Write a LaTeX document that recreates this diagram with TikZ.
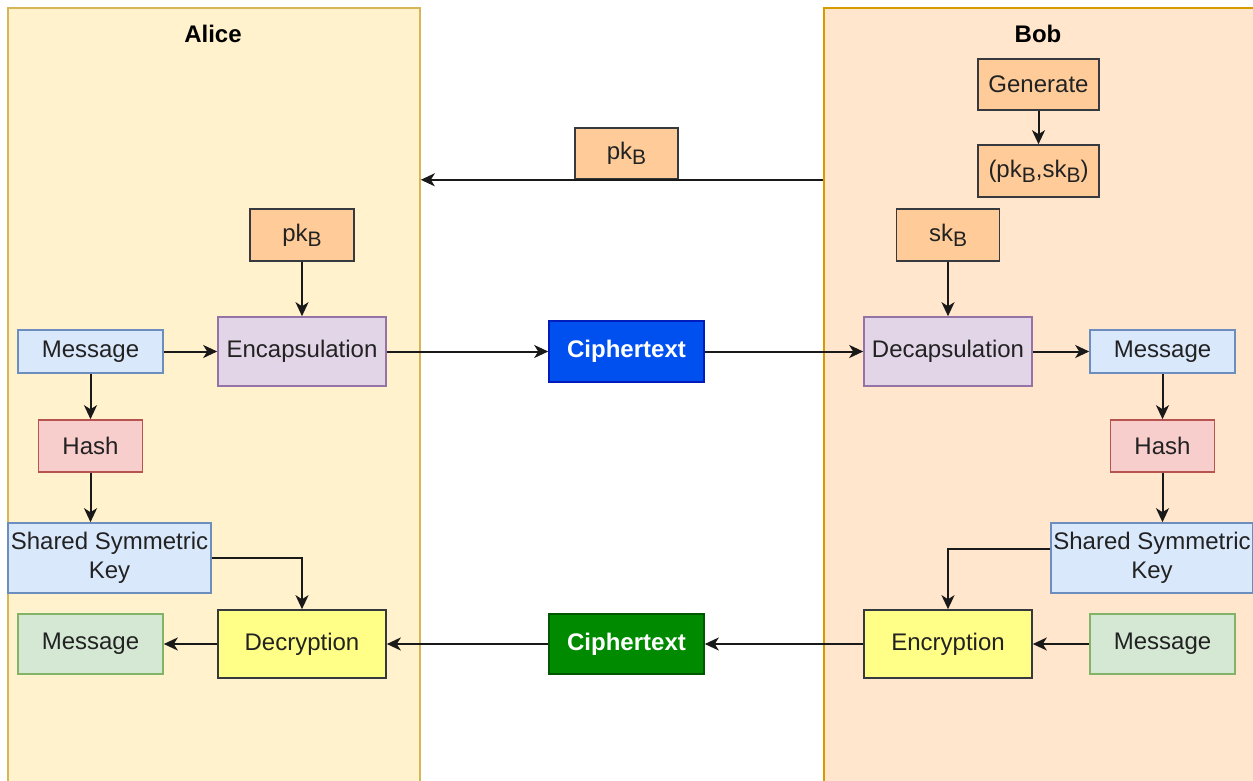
\documentclass[tikz,border=0pt]{standalone}
\usepackage{fontspec}
\setmainfont{Liberation Sans}
\usetikzlibrary{arrows.meta}
\definecolor{laneA}{HTML}{FFF2CC}\definecolor{laneAd}{HTML}{D6B656}
\definecolor{laneB}{HTML}{FFE6CC}\definecolor{laneBd}{HTML}{D79B00}
\definecolor{orf}{HTML}{FFCC99}\definecolor{ord}{HTML}{36393D}
\definecolor{puf}{HTML}{E1D5E7}\definecolor{pud}{HTML}{9673A6}
\definecolor{blf}{HTML}{DAE8FC}\definecolor{bld}{HTML}{6C8EBF}
\definecolor{ref}{HTML}{F8CECC}\definecolor{red}{HTML}{B85450}
\definecolor{grf}{HTML}{D5E8D4}\definecolor{grd}{HTML}{82B366}
\definecolor{yef}{HTML}{FFFF88}\definecolor{yed}{HTML}{36393D}
\definecolor{ctbf}{HTML}{0050EF}\definecolor{ctbd}{HTML}{001DBC}
\definecolor{ctgf}{HTML}{008A00}\definecolor{ctgd}{HTML}{005700}
\definecolor{txt}{HTML}{222222}
\newcommand\subB{\raisebox{-5pt}{\fontsize{21pt}{21pt}\selectfont B}}
\begin{document}
\begin{tikzpicture}[x=1pt,y=-1pt,
  box/.style={rectangle,draw,line width=1.6pt,inner sep=0pt,text=txt,
    font=\fontsize{24pt}{29pt}\selectfont,align=center},
  orbox/.style={box,fill=orf,draw=ord},
  pubox/.style={box,fill=puf,draw=pud},
  blbox/.style={box,fill=blf,draw=bld},
  rebox/.style={box,fill=ref,draw=red},
  grbox/.style={box,fill=grf,draw=grd},
  yebox/.style={box,fill=yef,draw=yed},
  ctbox/.style={box,text=white,font=\fontsize{24pt}{29pt}\selectfont\bfseries},
  lane/.style={rectangle,line width=1.6pt,inner sep=0pt},
  title/.style={font=\fontsize{24pt}{29pt}\selectfont\bfseries,text=black},
  arr/.style={-{Stealth[length=14pt,width=13pt,inset=4pt]},line width=2pt,draw=black!90}]
\clip (0,0) rectangle (1253,781);
\fill[white] (0,0) rectangle (1253,781);
% lanes
\node[lane,fill=laneA,draw=laneAd,minimum width=412pt,minimum height=800pt] (alice) at (214,408) {};
\node[lane,fill=laneB,draw=laneBd,minimum width=440pt,minimum height=800pt] (bob) at (1044,408) {};
\node[title] (talice) at (213,34) {Alice};
\node[title] (tbob) at (1038,34) {Bob};
% top middle
\node[orbox,minimum width=103pt,minimum height=51pt] (pkT) at (626.5,153.5) {pk\subB};
% Bob
\node[orbox,minimum width=121pt,minimum height=51pt] (gen) at (1038.5,84.5) {Generate};
\node[orbox,minimum width=121pt,minimum height=52pt] (pair) at (1038.5,171) {(pk\subB,sk\subB)};
\node[orbox,minimum width=103pt,minimum height=52pt] (skB) at (948,235) {sk\subB};
\node[pubox,minimum width=168pt,minimum height=69pt] (decap) at (948,351.5) {Decapsulation};
\node[blbox,minimum width=145pt,minimum height=43pt] (bmsg) at (1162.5,351.5) {Message};
\node[rebox,minimum width=104pt,minimum height=52pt] (bhash) at (1162.5,446) {Hash};
\node[blbox,minimum width=202pt,minimum height=70pt] (bssk) at (1152,558) {Shared Symmetric\\Key};
\node[yebox,minimum width=168pt,minimum height=68pt] (enc) at (948,644) {Encryption};
\node[grbox,minimum width=145pt,minimum height=60pt] (bmsg2) at (1162.5,644) {Message};
% middle
\node[ctbox,fill=ctbf,draw=ctbd,minimum width=155pt,minimum height=61pt] (ctb) at (626.5,351.5) {Ciphertext};
\node[ctbox,fill=ctgf,draw=ctgd,minimum width=155pt,minimum height=60pt] (ctg) at (626.5,644) {Ciphertext};
% Alice
\node[orbox,minimum width=104pt,minimum height=52pt] (apk) at (302,235) {pk\subB};
\node[pubox,minimum width=168pt,minimum height=69pt] (encap) at (302,351.5) {Encapsulation};
\node[blbox,minimum width=145pt,minimum height=43pt] (amsg) at (90.5,351.5) {Message};
\node[rebox,minimum width=104pt,minimum height=52pt] (ahash) at (90.5,446) {Hash};
\node[blbox,minimum width=203pt,minimum height=70pt] (assk) at (109.5,558) {Shared Symmetric\\Key};
\node[yebox,minimum width=168pt,minimum height=68pt] (dec) at (302,644) {Decryption};
\node[grbox,minimum width=145pt,minimum height=60pt] (amsg2) at (90.5,644) {Message};
% connectors
\draw[arr] (bob.west |- pkT.south) -- (alice.east |- pkT.south);
\draw[arr] (gen) -- (pair);
\draw[arr] (skB) -- (decap);
\draw[arr] (decap) -- (bmsg);
\draw[arr] (bmsg) -- (bhash);
\draw[arr] (bhash) -- (bhash |- bssk.north);
\draw[arr] ([yshift=9pt]bssk.west) -| (enc.north);
\draw[arr] (bmsg2) -- (enc);
\draw[arr] (enc) -- (ctg);
\draw[arr] (ctg) -- (dec);
\draw[arr] (dec) -- (amsg2);
\draw[arr] (assk.east) -| (dec.north);
\draw[arr] (ahash) -- (ahash |- assk.north);
\draw[arr] (amsg) -- (ahash);
\draw[arr] (amsg) -- (encap);
\draw[arr] (apk) -- (encap);
\draw[arr] (encap) -- (ctb);
\draw[arr] (ctb) -- (decap);
\end{tikzpicture}
\end{document}
